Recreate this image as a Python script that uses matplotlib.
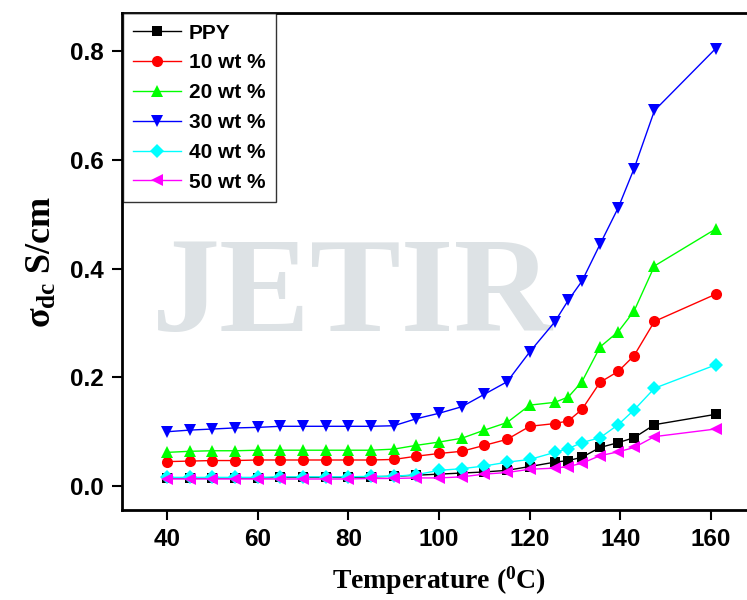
import numpy as np
import matplotlib
matplotlib.use('Agg')
import matplotlib.pyplot as plt

temp = [40, 45, 50, 55, 60, 65, 70, 75, 80, 85, 90, 95, 100, 105, 110, 115, 120,
        125.5, 128.5, 131.5, 135.5, 139.5, 143, 147.5, 161]

ppy = [0.015, 0.015, 0.015, 0.015, 0.015, 0.016, 0.016, 0.016, 0.016, 0.017, 0.018, 0.020,
       0.022, 0.024, 0.026, 0.029, 0.036, 0.044, 0.047, 0.053, 0.071, 0.080, 0.089, 0.113, 0.132]
wt10 = [0.045, 0.046, 0.047, 0.047, 0.048, 0.048, 0.048, 0.048, 0.048, 0.048, 0.049, 0.055,
        0.060, 0.064, 0.075, 0.086, 0.110, 0.115, 0.120, 0.141, 0.191, 0.211, 0.240, 0.303, 0.353]
wt20 = [0.062, 0.064, 0.065, 0.065, 0.066, 0.066, 0.066, 0.066, 0.066, 0.066, 0.068, 0.075,
        0.081, 0.088, 0.103, 0.117, 0.149, 0.154, 0.164, 0.192, 0.256, 0.284, 0.322, 0.405, 0.473]
wt30 = [0.100, 0.103, 0.105, 0.107, 0.108, 0.110, 0.110, 0.110, 0.110, 0.110, 0.111, 0.124,
        0.134, 0.146, 0.169, 0.192, 0.247, 0.302, 0.342, 0.377, 0.445, 0.512, 0.584, 0.691, 0.805]
wt40 = [0.016, 0.016, 0.016, 0.016, 0.016, 0.017, 0.017, 0.017, 0.017, 0.018, 0.018, 0.021,
        0.029, 0.032, 0.037, 0.044, 0.049, 0.062, 0.069, 0.080, 0.089, 0.113, 0.140, 0.180, 0.223]
wt50 = [0.013, 0.013, 0.013, 0.013, 0.013, 0.013, 0.013, 0.013, 0.013, 0.014, 0.014, 0.015,
        0.015, 0.017, 0.022, 0.025, 0.031, 0.033, 0.036, 0.042, 0.056, 0.063, 0.071, 0.091, 0.105]

labels = ['PPY', '10 wt %', '20 wt %', '30 wt %', '40 wt %', '50 wt %']
colors = ['black', 'red', '#00ff00', 'blue', 'cyan', 'magenta']
markers = ['s', 'o', '^', 'v', 'D', '<']
sizes = [7, 8, 8.5, 8.5, 7, 8.5]

plt.rcParams['mathtext.fontset'] = 'custom'
plt.rcParams['mathtext.rm'] = 'Liberation Serif:bold'
plt.rcParams['mathtext.it'] = 'Liberation Serif:bold'
plt.rcParams['mathtext.bf'] = 'Liberation Serif:bold'

fig = plt.figure(figsize=(7.47, 6.0), dpi=100)
ax = fig.add_axes([0.163, 0.15, 0.8497, 0.828])

# faint watermark
ax.text(0.363, 0.425, 'JETIR', transform=ax.transAxes, ha='center', va='center',
        fontsize=98, family='Liberation Serif', fontweight='bold',
        color='#dde2e5', zorder=0)

series = [ppy, wt10, wt20, wt30, wt40, wt50]
for ys, lab, c, m, s in zip(series, labels, colors, markers, sizes):
    ax.plot(temp, ys, color=c, marker=m, markersize=s, linewidth=1.0,
            markeredgewidth=0, label=lab, zorder=3)

ax.set_xlim(30, 170)
ax.set_ylim(-0.044, 0.870)
ax.set_xticks([40, 60, 80, 100, 120, 140, 160])
ax.set_yticks([0.0, 0.2, 0.4, 0.6, 0.8])
ax.set_yticklabels(['0.0', '0.2', '0.4', '0.6', '0.8'])

for sp in ax.spines.values():
    sp.set_linewidth(2)
ax.spines['right'].set_visible(False)
ax.tick_params(direction='out', length=7, width=1.5, pad=6)
for t in ax.get_xticklabels() + ax.get_yticklabels():
    t.set_fontfamily('Liberation Sans')
    t.set_fontweight('bold')
    t.set_fontsize(17.5)

ax.set_xlabel('Temperature ($^\\mathregular{0}$C)', family='Liberation Serif',
              fontweight='bold', fontsize=20, labelpad=10)
ax.set_ylabel('$\\sigma_{dc}$ S/cm', family='Liberation Serif',
              fontweight='bold', fontsize=26, labelpad=8)

leg = ax.legend(loc='upper left', bbox_to_anchor=(0.002, 1.0), borderaxespad=0,
                fancybox=False, frameon=True, handlelength=2.3, handletextpad=0.35,
                labelspacing=0.52, borderpad=0.5,
                prop={'family': 'Liberation Sans', 'weight': 'bold', 'size': 15})
leg.get_frame().set_edgecolor('black')
leg.get_frame().set_linewidth(1.0)

fig.savefig('out.png', dpi=100)
